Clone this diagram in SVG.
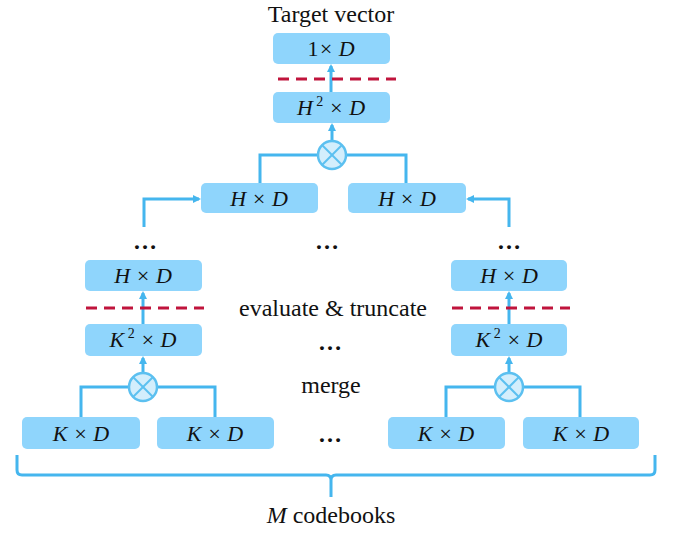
<svg xmlns="http://www.w3.org/2000/svg" width="676" height="533" viewBox="0 0 676 533">
<style>
.box{fill:#8fd5fc;}
text{font-family:"Liberation Serif","Times New Roman","DejaVu Serif",serif;}
.lbl{font-style:italic;font-size:22px;fill:#111;text-anchor:middle;}
.up{font-style:normal;}
.txt{font-size:24px;fill:#111;text-anchor:middle;}
.dots{font-size:24px;font-weight:bold;fill:#111;text-anchor:middle;}
.ln{fill:none;stroke:#45b6ee;stroke-width:3;}
.arr{fill:none;stroke:#45b6ee;stroke-width:3;marker-end:url(#ah);}
.cut{stroke:#c0143c;stroke-width:3;stroke-dasharray:11 7;}
.op{fill:#d3eefc;stroke:#5cc0f0;stroke-width:2.5;}
.opx{stroke:#5cc0f0;stroke-width:2;}
</style>
<defs>
<marker id="ah" markerWidth="8" markerHeight="8" refX="6" refY="4" orient="auto" markerUnits="userSpaceOnUse">
<path d="M0,0 L8,4 L0,8 Z" fill="#45b6ee"/>
</marker>
</defs>

<text class="txt" x="331" y="22">Target vector</text>

<g id="connectors">
<line class="arr" x1="331" y1="92" x2="331" y2="66"/>
<line class="arr" x1="332" y1="141" x2="332" y2="125"/>
<polyline class="ln" points="260,183 260,155 406,155 406,183"/>
<polyline class="arr" points="144,227 144,199 199,199"/>
<polyline class="arr" points="509,227 509,199 468,199"/>
<line class="arr" x1="143" y1="324" x2="143" y2="293"/>
<line class="arr" x1="143" y1="373" x2="143" y2="358"/>
<polyline class="ln" points="81,417 81,387 215,387 215,417"/>
<line class="arr" x1="509" y1="324" x2="509" y2="293"/>
<line class="arr" x1="509" y1="373" x2="509" y2="358"/>
<polyline class="ln" points="446,417 446,387 580,387 580,417"/>
<path class="ln" d="M17,455 L17,470 Q17,475 22,475 L326,475 Q331,475 331,480 L331,497 M331,480 Q331,475 336,475 L650,475 Q655,475 655,470 L655,455"/>
</g>

<g id="cuts">
<line class="cut" x1="278" y1="79" x2="396" y2="79"/>
<line class="cut" x1="86" y1="308" x2="204" y2="308"/>
<line class="cut" x1="452" y1="308" x2="570" y2="308"/>
</g>

<g id="n-target"><rect class="box" x="273" y="33" width="117" height="31" rx="5"/><text class="lbl" x="331" y="56"><tspan class="up">1</tspan>× D</text></g>
<g id="n-h2"><rect class="box" x="273" y="92" width="117" height="31" rx="5"/><text class="lbl" x="331" y="115">H<tspan font-size="14" dy="-9" class="up"> 2</tspan><tspan dy="9"> × D</tspan></text></g>
<g id="op-top"><circle class="op" cx="332" cy="155" r="14"/><line class="opx" x1="322" y1="145" x2="342" y2="165"/><line class="opx" x1="342" y1="145" x2="322" y2="165"/></g>

<g id="n-hl"><rect class="box" x="201" y="183" width="117" height="30" rx="5"/><text class="lbl" x="259" y="206">H × D</text></g>
<g id="n-hr"><rect class="box" x="348" y="183" width="118" height="30" rx="5"/><text class="lbl" x="407" y="206">H × D</text></g>

<text class="dots" x="145" y="249">…</text>
<text class="dots" x="327" y="249">…</text>
<text class="dots" x="509" y="249">…</text>

<g id="n-hl2"><rect class="box" x="85" y="260" width="117" height="31" rx="5"/><text class="lbl" x="143" y="283">H × D</text></g>
<g id="n-hr2"><rect class="box" x="451" y="260" width="116" height="31" rx="5"/><text class="lbl" x="509" y="283">H × D</text></g>

<text class="txt" x="333" y="316">evaluate &amp; truncate</text>
<text class="dots" x="330" y="350">…</text>
<text class="txt" x="331" y="393">merge</text>
<text class="dots" x="330" y="442">…</text>

<g id="n-k2l"><rect class="box" x="85" y="324" width="117" height="32" rx="5"/><text class="lbl" x="143" y="347">K<tspan font-size="14" dy="-9" class="up"> 2</tspan><tspan dy="9"> × D</tspan></text></g>
<g id="n-k2r"><rect class="box" x="451" y="324" width="116" height="32" rx="5"/><text class="lbl" x="509" y="347">K<tspan font-size="14" dy="-9" class="up"> 2</tspan><tspan dy="9"> × D</tspan></text></g>

<g id="op-l"><circle class="op" cx="143" cy="387" r="14"/><line class="opx" x1="133" y1="377" x2="153" y2="397"/><line class="opx" x1="153" y1="377" x2="133" y2="397"/></g>
<g id="op-r"><circle class="op" cx="509" cy="387" r="14"/><line class="opx" x1="499" y1="377" x2="519" y2="397"/><line class="opx" x1="519" y1="377" x2="499" y2="397"/></g>

<g id="n-k1"><rect class="box" x="22" y="417" width="118" height="32" rx="5"/><text class="lbl" x="81" y="441">K × D</text></g>
<g id="n-k2"><rect class="box" x="157" y="417" width="117" height="32" rx="5"/><text class="lbl" x="215" y="441">K × D</text></g>
<g id="n-k3"><rect class="box" x="388" y="417" width="117" height="32" rx="5"/><text class="lbl" x="446" y="441">K × D</text></g>
<g id="n-k4"><rect class="box" x="523" y="417" width="116" height="32" rx="5"/><text class="lbl" x="581" y="441">K × D</text></g>

<text class="txt" x="331" y="523"><tspan font-style="italic">M</tspan>  codebooks</text>
</svg>
